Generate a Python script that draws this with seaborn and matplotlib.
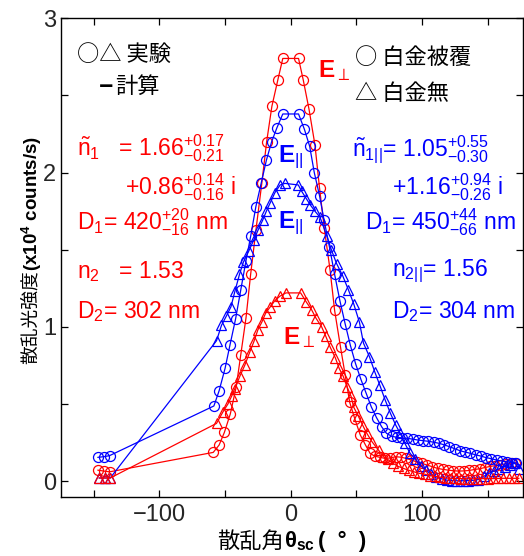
import matplotlib
matplotlib.use("Agg")
import matplotlib.pyplot as plt
import seaborn as sns
import numpy as np
import pandas as pd
from matplotlib.ticker import MultipleLocator, FixedLocator

# ---------------- data ----------------
# E_perp, platinum coated (red circles)
rc_x = [-147, -142.5, -138, -59, -54.5, -50.5, -46, -41.5, -38, -34, -30.5, -26.5, -22, -18.3,
        -14.3, -9.8, -6, 6, 9.6, 14, 18.5, 22, 25.6, 30, 33.5, 38, 41.5, 45, 49, 53, 57, 60.5,
        64, 68, 72, 76, 80, 84, 88, 92, 96, 100, 104, 108, 112, 116, 120, 124, 128, 132, 136,
        140, 144, 148, 152, 156, 160, 164, 168, 171]
rc_y = [0.071, 0.065, 0.06, 0.186, 0.234, 0.316, 0.435, 0.61, 0.82, 1.06, 1.34, 1.625, 1.93, 2.20,
        2.43, 2.60, 2.74, 2.74, 2.60, 2.41, 2.18, 1.90, 1.64, 1.37, 1.106, 0.868, 0.69, 0.51, 0.40,
        0.30, 0.234, 0.18, 0.162, 0.154, 0.147, 0.15, 0.158, 0.155, 0.147, 0.136, 0.125, 0.115,
        0.104, 0.093, 0.082, 0.076, 0.071, 0.067, 0.065, 0.066, 0.069, 0.075, 0.08, 0.088, 0.095,
        0.1, 0.106, 0.112, 0.115, 0.118]

# E_parallel, platinum coated (blue circles)
bc_x = [-147, -142.5, -138, -58.5, -54.5, -50, -46.3, -42, -38, -34, -30.5, -26.5, -22.5, -18.5,
        -14.5, -10.5, -6, 6, 10.5, 14.5, 18, 22, 25.5, 29.5, 33.5, 37.5, 41.5, 45.5, 49.5, 53.5,
        57.5, 61.5, 65.5, 69.5, 73, 77, 81, 85, 89, 93, 97, 101, 105, 109, 113, 117, 121, 125,
        129, 133, 137, 141, 145, 149, 153, 157, 161, 165, 169, 172]
bc_y = [0.154, 0.158, 0.165, 0.487, 0.586, 0.73, 0.88, 1.05, 1.24, 1.43, 1.586, 1.78, 1.93, 2.08,
        2.20, 2.29, 2.38, 2.38, 2.28, 2.17, 2.0, 1.85, 1.69, 1.52, 1.34, 1.17, 1.02, 0.88, 0.76,
        0.66, 0.57, 0.48, 0.41, 0.35, 0.31, 0.29, 0.284, 0.28, 0.277, 0.272, 0.266, 0.262, 0.258,
        0.252, 0.245, 0.235, 0.223, 0.21, 0.197, 0.188, 0.18, 0.17, 0.162, 0.152, 0.145, 0.136,
        0.13, 0.125, 0.12, 0.118]

# E_parallel, no platinum (blue triangles)
bt_x = [-146, -141.5, -137.5, -56.5, -52.7, -49, -45.5, -42.5, -39, -36, -32, -28, -24.7, -21.4,
        -18.5, -15.8, -12, -8, -4.4, 5.8, 8.3, 12, 15, 18.5, 22.4, 27.5, 31, 35, 39.7, 44, 48,
        52.4, 55.5, 60, 64, 68, 72, 76, 80, 83.4, 87, 91, 95, 99, 103, 107, 111, 115, 119, 123,
        127, 131, 135, 139, 143, 147, 151, 155, 159, 163, 167, 171, 174]
bt_y = [0.02, 0.02, 0.02, 0.91, 1.01, 1.07, 1.13, 1.23, 1.34, 1.42, 1.49, 1.565, 1.63, 1.69,
        1.75, 1.80, 1.87, 1.92, 1.93, 1.92, 1.88, 1.83, 1.79, 1.75, 1.71, 1.59, 1.50, 1.41, 1.33,
        1.24, 1.15, 1.03, 0.894, 0.807, 0.71, 0.62, 0.526, 0.44, 0.364, 0.31, 0.245, 0.18, 0.14,
        0.10, 0.07, 0.045, 0.028, 0.015, 0.006, 0.003, 0.002, 0.002, 0.003, 0.005, 0.01, 0.03,
        0.05, 0.065, 0.08, 0.093, 0.105, 0.115, 0.08]

# E_perp, no platinum (red triangles)
rt_x = [-146, -141.5, -137.5, -56.5, -51.5, -47.8, -45, -42.5, -38.7, -35, -31, -28, -25, -22,
        -19, -15.5, -12, -8, -3.6, 7.6, 12, 16, 19.3, 23.6, 26.7, 30, 34, 37, 40, 43, 46, 48,
        51.6, 55, 58, 62, 67, 70.7, 74, 78, 82, 86, 90, 94, 98, 102, 106, 110, 114, 118, 122,
        126, 130, 134, 138, 142, 146, 150, 154, 158, 162, 166, 170, 174]
rt_y = [0.02, 0.02, 0.02, 0.374, 0.45, 0.50, 0.55, 0.60, 0.68, 0.75, 0.84, 0.905, 0.98, 1.03,
        1.09, 1.13, 1.17, 1.20, 1.22, 1.22, 1.16, 1.11, 1.056, 1.0, 0.94, 0.87, 0.80, 0.73, 0.68,
        0.61, 0.55, 0.48, 0.42, 0.36, 0.31, 0.255, 0.20, 0.158, 0.14, 0.115, 0.095, 0.082, 0.07,
        0.06, 0.05, 0.045, 0.035, 0.03, 0.025, 0.02, 0.018, 0.017, 0.016, 0.015, 0.015, 0.015,
        0.016, 0.016, 0.017, 0.017, 0.018, 0.018, 0.018, 0.018]

x_major = [-100, 0, 100]
x_minor = [-150, -50, 50, 150]
y_major = [0, 1, 2, 3]

# ---------------- style ----------------
sns.set_theme(style="ticks")
plt.rcParams['font.family'] = ['Liberation Sans', 'Noto Sans CJK JP', 'DejaVu Sans']
plt.rcParams['mathtext.fontset'] = 'custom'
plt.rcParams['mathtext.rm'] = 'Liberation Sans'
plt.rcParams['mathtext.it'] = 'Liberation Sans:italic'
plt.rcParams['mathtext.bf'] = 'Liberation Sans:bold'
plt.rcParams['axes.unicode_minus'] = True

W, H = 524, 556
fig = plt.figure(figsize=(W / 100, H / 100), dpi=100)
ax = fig.add_axes([0.1164, 0.1056, 0.8816, 0.8614])

RED = '#ff0000'
BLUE = '#0000ff'

series = [
    (rc_x, rc_y, RED, 'o'),
    (bc_x, bc_y, BLUE, 'o'),
    (bt_x, bt_y, BLUE, '^'),
    (rt_x, rt_y, RED, '^'),
]
for xs, ys, col, mk in series:
    df = pd.DataFrame({'x': xs, 'y': ys})
    sns.lineplot(data=df, x='x', y='y', ax=ax, sort=False, estimator=None,
                 color=col, lw=0.9, marker=mk, markersize=7.2,
                 markerfacecolor='none', markeredgecolor=col, markeredgewidth=0.9)

ax.set_xlim(-175, 177)
ax.set_ylim(-0.105, 3.0)
ax.xaxis.set_major_locator(FixedLocator(x_major))
ax.xaxis.set_minor_locator(FixedLocator(x_minor))
ax.yaxis.set_major_locator(FixedLocator(y_major))
ax.yaxis.set_minor_locator(MultipleLocator(0.5))
ax.tick_params(which='both', direction='in', top=True, right=True, length=5, width=0.9,
               color='black')
ax.tick_params(axis='x', which='major', labelsize=17, pad=5)
ax.tick_params(axis='y', which='major', labelsize=17, pad=3.5)
for s in ax.spines.values():
    s.set_linewidth(1.0)
    s.set_color('black')
ax.set_xticklabels(['\u2212100', '0', '100'])
ax.set_yticklabels(['0', '1', '2', '3'])
ax.set_xlabel('')
ax.set_ylabel('')

cjk = ['Noto Sans CJK JP', 'DejaVu Sans']


def fx(px):
    return px / W


def fy(py):
    return 1 - py / H


# ---------------- axis labels built from parts ----------------
fig.canvas.draw()
rend = fig.canvas.get_renderer()

# y label: "散乱光強度" (regular) + "(x10^4 counts/s)" (bold), rotated
ty1 = fig.text(fx(30.5), fy(364), '散乱光強度', rotation=90, fontsize=13.5, family=cjk,
               ha='center', va='bottom', color='black')
bb = ty1.get_window_extent(renderer=rend)
ty2 = fig.text(fx(31.5), bb.y1 / H - 0.002, r'$\mathbf{(x10^4\ counts/s)}$', rotation=90,
               fontsize=13.5, ha='center', va='bottom', color='black')

# x label: "散乱角" (regular) + bold theta_sc + "( ° )"
tx1 = fig.text(fx(217), fy(541), '散乱角', fontsize=16, family=cjk, ha='left',
               va='center', color='black')
bb = tx1.get_window_extent(renderer=rend)
tx2 = fig.text(bb.x1 / W, fy(541), r'$\mathbf{\theta}_{\mathbf{sc}}$', fontsize=16,
               ha='left', va='center', color='black')
bb2 = tx2.get_window_extent(renderer=rend)
fig.text(bb2.x1 / W + 0.006, fy(541), '(  °  )', fontsize=16, fontweight='bold',
         ha='left', va='center', color='black')

# ---------------- annotations ----------------
ax.text(-162.5, 2.765, '○△ 実験', fontsize=16, family=cjk, va='center', color='black')
ax.text(-134.8, 2.56, '\u2012', fontsize=15, fontweight='heavy', family=['DejaVu Sans'],
        ha='right', va='center', color='black')
ax.text(-134, 2.56, '計算', fontsize=16, family=cjk, va='center', color='black')
ax.text(49, 2.745, '○ 白金被覆', fontsize=16, family=cjk, va='center', color='black')
ax.text(49, 2.515, '△ 白金無', fontsize=16, family=cjk, va='center', color='black')

ax.text(20.8, 2.66, r'$\mathbf{E}_{\perp}$', fontsize=17.5, color=RED, va='center')
ax.text(-5.9, 0.93, r'$\mathbf{E}_{\perp}$', fontsize=17.5, color=RED, va='center')
ax.text(-9.7, 2.10, r'$\mathbf{E}_{||}$', fontsize=17.5, color=BLUE, va='center')
ax.text(-9.7, 1.67, r'$\mathbf{E}_{||}$', fontsize=17.5, color=BLUE, va='center')

fs = 16.5
ax.text(-162.5, 2.11, r'$\tilde{\mathrm{n}}_1$' + '   = 1.66' + r'$^{+0.17}_{-0.21}$',
        fontsize=fs, color=RED, va='baseline')
ax.text(-126.5, 1.857, '+0.86' + r'$^{+0.14}_{-0.16}$' + ' i', fontsize=fs, color=RED,
        va='baseline')
ax.text(-162.5, 1.63, 'D' + r'$_1$' + '= 420' + r'$^{+20}_{-16}$' + ' nm', fontsize=fs,
        color=RED, va='baseline')
ax.text(-162.5, 1.318, 'n' + r'$_2$' + '   = 1.53', fontsize=fs, color=RED, va='baseline')
ax.text(-162.5, 1.058, 'D' + r'$_2$' + '= 302 nm', fontsize=fs, color=RED, va='baseline')

ax.text(46.8, 2.11, r'$\tilde{\mathrm{n}}_{1||}$' + '= 1.05' + r'$^{+0.55}_{-0.30}$',
        fontsize=fs, color=BLUE, va='baseline')
ax.text(77.3, 1.857, '+1.16' + r'$^{+0.94}_{-0.26}$' + ' i', fontsize=fs, color=BLUE,
        va='baseline')
ax.text(56.7, 1.63, 'D' + r'$_1$' + '= 450' + r'$^{+44}_{-66}$' + ' nm', fontsize=fs,
        color=BLUE, va='baseline')
ax.text(77.3, 1.33, 'n' + r'$_{2||}$' + '= 1.56', fontsize=fs, color=BLUE, va='baseline')
ax.text(77.3, 1.058, 'D' + r'$_2$' + '= 304 nm', fontsize=fs, color=BLUE, va='baseline')

fig.savefig('out.png', dpi=100)
